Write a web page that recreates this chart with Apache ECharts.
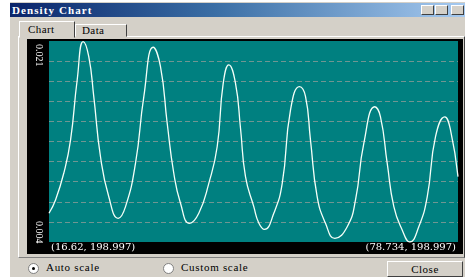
<!DOCTYPE html>
<html><head><meta charset="utf-8">
<script src="https://cdn.jsdelivr.net/npm/echarts@6/dist/echarts.min.js"></script>
<style>
html,body{margin:0;padding:0;width:465px;height:277px;overflow:hidden;background:#fff;font-family:"Liberation Serif","DejaVu Serif",serif;}
#win{position:absolute;left:10px;top:2px;width:455px;height:275px;background:#d4d0c8;}
#title{position:absolute;left:10px;top:3px;width:455px;height:14px;background:linear-gradient(to right,#0a246a,#3a6ea5 45%,#a6caf0);}
#title span{position:absolute;left:2px;top:0px;color:#fff;font-weight:bold;font-size:11px;line-height:14px;letter-spacing:1.1px;}
.tb{position:absolute;top:5px;width:13px;height:10px;background:#d4d0c8;border:1px solid;border-color:#fff #404040 #404040 #fff;box-sizing:border-box;}
#panel{position:absolute;left:18px;top:36px;width:447px;height:222px;border:1px solid;border-color:#fff #404040 #808080 #fff;box-sizing:border-box;}
.tab{position:absolute;font-size:11px;color:#000;border:1px solid;border-color:#fff #404040 #d4d0c8 #fff;box-sizing:border-box;background:#d4d0c8;text-align:left;letter-spacing:0.4px;}
#chart{position:absolute;left:27px;top:39px;width:436px;height:215px;}
.radio{position:absolute;top:263px;width:11px;height:11px;border-radius:50%;background:#fff;border:1px solid #808080;box-sizing:border-box;}
.lbl{position:absolute;top:261px;font-size:11px;color:#000;letter-spacing:0.7px;}
#close{position:absolute;left:387px;top:261px;width:76px;height:16px;border:1px solid;border-color:#fff #404040 #404040 #fff;box-sizing:border-box;font-size:11px;text-align:center;line-height:14px;color:#000;letter-spacing:0.5px;}
</style></head>
<body>
<div id="win"></div>
<div id="title"><span>Density Chart</span></div>
<div class="tb" style="left:421px"></div>
<div class="tb" style="left:435px"></div>
<div class="tb" style="left:451px"></div>
<div id="panel"></div>
<div class="tab" style="left:75px;top:24px;width:52px;height:13px;padding-left:6px;line-height:11px;">Data</div>
<div class="tab" style="left:19px;top:21px;width:56px;height:17px;padding-left:8px;line-height:14px;">Chart</div>
<div id="chart"></div>
<div class="radio" style="left:28px"><div style="position:absolute;left:3px;top:3px;width:3px;height:3px;border-radius:50%;background:#000"></div></div>
<div class="lbl" style="left:46px">Auto scale</div>
<div class="radio" style="left:163px"></div>
<div class="lbl" style="left:181px">Custom scale</div>
<div id="close">Close</div>
<script>
// Density curve (x in data units, y in grid units 0..10)
var xValues = [16.62,17.61,18.87,19.89,20.90,21.81,22.66,23.42,24.44,25.70,27.13,28.24,29.76,31.02,32.44,33.55,34.57,35.57,36.59,37.96,39.37,40.89,42.16,43.08,43.93,44.94,45.70,46.46,47.72,48.48,49.35,50.76,52.04,53.30,54.66,55.58,56.33,57.35,58.61,60.03,61.91,63.17,64.43,66.10,66.96,67.98,68.99,70.26,71.42,72.78,74.06,75.32,76.73,77.60,78.734];
var yValues = [1.43,2.09,3.43,5.07,8.06,9.97,9.22,7.23,4.24,2.25,1.18,1.76,3.92,7.23,9.69,8.72,5.91,3.42,1.93,0.93,1.43,2.92,4.74,7.90,8.81,7.90,5.67,3.25,1.76,0.95,0.63,1.43,2.92,6.57,7.73,7.23,5.07,2.25,0.93,0.18,0.76,2.09,4.91,6.73,6.23,3.92,1.76,0.60,0.0,0.76,2.25,5.24,6.23,5.57,3.25];
var yTopLabel = "0.021";
var yBottomLabel = "0.004";
var leftCoordLabel = "(16.62, 198.997)";
var rightCoordLabel = "(78.734, 198.997)";

var data = xValues.map(function(x,i){return [x,yValues[i]];});
var chart = echarts.init(document.getElementById('chart'));
var labFont = '10px "DejaVu Serif", serif';
chart.setOption({
  animation:false,
  backgroundColor:'#000',
  grid:{left:22,top:2,right:5,bottom:12,backgroundColor:'#008080',show:true,borderWidth:0},
  xAxis:{type:'value',min:16.62,max:78.734,show:false},
  yAxis:{type:'value',min:0,max:10,interval:1,
    axisLabel:{show:false},axisTick:{show:false},axisLine:{show:false},
    splitLine:{show:true,showMinLine:false,showMaxLine:false,lineStyle:{color:'#6f9692',type:[5,3],width:1}}},
  series:[{type:'line',data:data,smooth:0.5,symbol:'none',
    lineStyle:{color:'#f4fff8',width:1.3}}],
  graphic:[
    {type:'text',rotation:-Math.PI/2,x:17,y:5,
      style:{text:yTopLabel,fill:'#fff',font:'10px "Liberation Serif", serif'}},
    {type:'text',rotation:-Math.PI/2,x:17,y:182,
      style:{text:yBottomLabel,fill:'#fff',font:'10px "Liberation Serif", serif'}},
    {type:'text',x:24,y:203,style:{text:leftCoordLabel,fill:'#fff',font:labFont}},
    {type:'text',right:7,y:203,style:{text:rightCoordLabel,fill:'#fff',font:labFont}}
  ]
});
</script>
</body></html>
